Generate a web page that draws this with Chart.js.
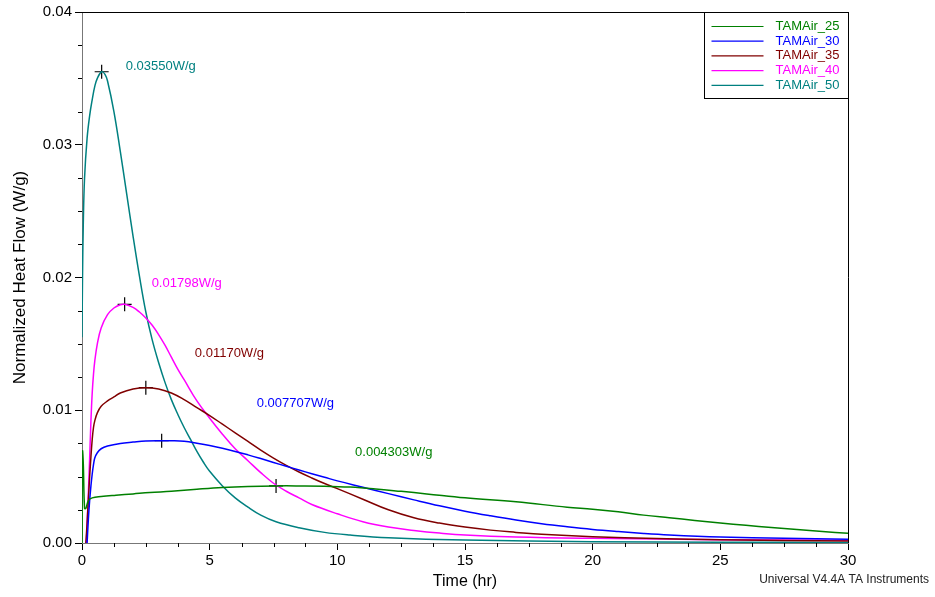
<!DOCTYPE html>
<html>
<head>
<meta charset="utf-8">
<title>TAMAir heat flow</title>
<script src="https://cdn.jsdelivr.net/npm/chart.js@4.4.0/dist/chart.umd.min.js"></script>
<style>
  body { margin: 0; background: #fff; }
  canvas { display: block; }
</style>
</head>
<body>
<canvas id="heatchart" width="935" height="597"></canvas>
<script>
// series names + colours
const seriesNames = ["TAMAir_25", "TAMAir_30", "TAMAir_35", "TAMAir_40", "TAMAir_50"];
const seriesColors = ["#008000", "#0000ff", "#800000", "#ff00ff", "#008080"];

// time (hr) / normalized heat flow (W/g)
const t25 = [0, 0.02, 0.05, 0.1, 0.15, 0.25, 0.4, 0.75, 1.33, 2, 2.66, 3.5, 4.5, 5.5, 6.5, 7.6, 8.5, 9.5, 10.5, 11.5, 12.5, 13.5, 15, 17, 19, 20, 21, 22, 23, 24, 25, 26, 27, 28, 29, 30];
const v25 = [0, 0.0069, 0.0060, 0.0026, 0.0026, 0.0032, 0.0034, 0.0035, 0.0036, 0.0037, 0.0038, 0.0039, 0.00405, 0.00418, 0.00426, 0.0043, 0.0043, 0.00428, 0.00421, 0.00407, 0.00389, 0.0037, 0.0034, 0.0031, 0.0027, 0.00255, 0.00235, 0.0021, 0.0019, 0.0017, 0.0015, 0.00133, 0.00117, 0.00102, 0.00087, 0.00073];

const t30 = [0.2, 0.25, 0.3, 0.35, 0.4, 0.45, 0.5, 0.6, 0.75, 1, 1.5, 2, 2.5, 3.12, 3.5, 4, 4.5, 5, 5.5, 6, 6.5, 7, 7.5, 8, 8.5, 9, 9.5, 10, 11, 12, 13, 14, 15, 16, 17, 18, 19, 20, 21, 22, 23, 25, 27.5, 30];
const v30 = [0, 0.0018, 0.0032, 0.0043, 0.0052, 0.0059, 0.0064, 0.0068, 0.0071, 0.0073, 0.0075, 0.0076, 0.00768, 0.0077, 0.0077, 0.00766, 0.00752, 0.00734, 0.00713, 0.0069, 0.00664, 0.00636, 0.00607, 0.00578, 0.0055, 0.00522, 0.00495, 0.00468, 0.0042, 0.00372, 0.00325, 0.0028, 0.0024, 0.00205, 0.00173, 0.00145, 0.00122, 0.00102, 0.00086, 0.00072, 0.00061, 0.00046, 0.00035, 0.00028];

const t35 = [0.15, 0.2, 0.25, 0.3, 0.35, 0.4, 0.45, 0.5, 0.6, 0.75, 1, 1.25, 1.5, 2, 2.5, 3, 3.5, 4, 4.5, 5, 5.5, 6, 6.5, 7, 7.5, 8, 8.5, 9, 9.5, 10, 11, 12, 13, 14, 15, 16, 17, 18, 20, 22.5, 25, 30];
const v35 = [0, 0.0015, 0.0033, 0.0050, 0.0065, 0.0078, 0.0087, 0.0092, 0.0098, 0.0103, 0.0107, 0.0110, 0.0113, 0.0116, 0.0117, 0.0116, 0.0113, 0.0108, 0.0102, 0.0096, 0.00895, 0.0083, 0.00765, 0.0070, 0.0064, 0.00585, 0.00535, 0.0049, 0.00448, 0.0041, 0.0033, 0.0025, 0.0019, 0.0015, 0.0012, 0.00097, 0.0008, 0.00065, 0.00047, 0.00033, 0.00025, 0.00015];

const t40 = [0.17, 0.25, 0.3, 0.35, 0.4, 0.45, 0.5, 0.6, 0.75, 1, 1.25, 1.5, 1.67, 2, 2.25, 2.5, 2.75, 3, 3.25, 3.5, 3.75, 4, 4.5, 5, 5.5, 6, 6.5, 7, 7.5, 8, 8.5, 9, 10, 11, 12, 13, 14, 15, 17, 20, 25, 30];
const v40 = [0, 0.0038, 0.0064, 0.0092, 0.0113, 0.0127, 0.0137, 0.0150, 0.0162, 0.0172, 0.0177, 0.01795, 0.01798, 0.01775, 0.0174, 0.01695, 0.0164, 0.0157, 0.0149, 0.0140, 0.0131, 0.0123, 0.0107, 0.0094, 0.0082, 0.0071, 0.0062, 0.0053, 0.0045, 0.0039, 0.0034, 0.0029, 0.0022, 0.0016, 0.0012, 0.00095, 0.00075, 0.0006, 0.00045, 0.00035, 0.00025, 0.0002];

const t50 = [0, 0.02, 0.05, 0.1, 0.2, 0.3, 0.4, 0.5, 0.6, 0.77, 0.9, 1, 1.25, 1.5, 1.75, 2, 2.25, 2.5, 2.75, 3, 3.25, 3.5, 3.75, 4, 4.25, 4.5, 4.75, 5, 5.5, 6, 6.5, 7, 7.6, 8.5, 9.5, 10.5, 12, 15, 20, 25, 30];
const v50 = [0.0155, 0.0200, 0.0240, 0.0275, 0.0305, 0.0322, 0.0334, 0.0344, 0.0350, 0.0355, 0.0353, 0.0348, 0.0325, 0.0295, 0.0263, 0.0231, 0.0201, 0.0174, 0.0153, 0.0136, 0.0121, 0.0108, 0.0097, 0.0087, 0.0078, 0.0069, 0.0061, 0.0054, 0.0043, 0.0034, 0.0027, 0.0021, 0.0016, 0.00115, 0.0008, 0.0006, 0.0004, 0.00022, 0.0001, 0.00006, 0.00004];

// peak markers
const peakTimes = [7.6, 3.12, 2.5, 1.67, 0.77];
const peakValues = [0.004303, 0.007707, 0.01170, 0.01798, 0.03550];
const peakLabels = ["0.004303W/g", "0.007707W/g", "0.01170W/g", "0.01798W/g", "0.03550W/g"];
// where each label sits relative to its marker (px)
const labelOffsets = [[79, -33], [95, -37], [49, -34], [27, -21], [24, -5]];

const FONT = "'Liberation Sans', Arial, Helvetica, sans-serif";

function toPoints(ts, vs) {
    return ts.map((t, i) => ({ x: t, y: vs[i] }));
}

const allT = [t25, t30, t35, t40, t50];
const allV = [v25, v30, v35, v40, v50];

const datasets = seriesNames.map((name, i) => ({
    label: name,
    data: toPoints(allT[i], allV[i]),
    borderColor: seriesColors[i],
    borderWidth: 1.5,
    pointRadius: 0,
    fill: false,
    tension: 0.4
}));

datasets.push({
    label: "peaks",
    data: toPoints(peakTimes, peakValues),
    showLine: false,
    pointStyle: "cross",
    pointRadius: 7,
    pointBorderColor: "#000",
    pointBorderWidth: 1.2,
    pointHoverRadius: 7
});

const extras = {
    id: "extras",
    afterDatasetsDraw(chart) {
        const { ctx, chartArea: a, scales: { x, y } } = chart;
        ctx.save();

        // top and right frame
        ctx.strokeStyle = "#000";
        ctx.lineWidth = 1;
        ctx.beginPath();
        ctx.moveTo(a.left, Math.round(a.top) + 0.5);
        ctx.lineTo(Math.round(a.right) + 0.5, Math.round(a.top) + 0.5);
        ctx.lineTo(Math.round(a.right) + 0.5, a.bottom);
        ctx.stroke();

        // minor ticks
        ctx.beginPath();
        for (let v = 0.0025; v < 0.04; v += 0.0025) {
            if (Math.abs(v / 0.01 - Math.round(v / 0.01)) < 1e-6) continue;
            const py = Math.round(y.getPixelForValue(v)) + 0.5;
            ctx.moveTo(a.left - 4, py);
            ctx.lineTo(a.left, py);
        }
        for (let t = 1.25; t < 30; t += 1.25) {
            if (Math.abs(t / 5 - Math.round(t / 5)) < 1e-6) continue;
            const px = Math.round(x.getPixelForValue(t)) + 0.5;
            ctx.moveTo(px, a.bottom);
            ctx.lineTo(px, a.bottom + 4);
        }
        ctx.stroke();

        // peak labels
        ctx.font = "13px " + FONT;
        ctx.textBaseline = "middle";
        ctx.textAlign = "left";
        peakTimes.forEach((t, i) => {
            ctx.fillStyle = seriesColors[i];
            ctx.fillText(peakLabels[i],
                x.getPixelForValue(t) + labelOffsets[i][0],
                y.getPixelForValue(peakValues[i]) + labelOffsets[i][1]);
        });

        // legend box
        const bw = 144, bh = 86;
        const bx = Math.round(a.right) - bw + 0.5, by = Math.round(a.top) + 0.5;
        ctx.fillStyle = "#fff";
        ctx.fillRect(bx, by, bw, bh);
        ctx.strokeStyle = "#000";
        ctx.strokeRect(bx, by, bw, bh);
        seriesNames.forEach((name, i) => {
            const ry = by + 14 + i * 14.7;
            ctx.strokeStyle = seriesColors[i];
            ctx.lineWidth = 1.2;
            ctx.beginPath();
            ctx.moveTo(bx + 7, ry);
            ctx.lineTo(bx + 59, ry);
            ctx.stroke();
            ctx.fillStyle = seriesColors[i];
            ctx.fillText(name, bx + 71, ry);
        });

        ctx.restore();
    },
    afterDraw(chart) {
        const { ctx } = chart;
        ctx.save();
        ctx.font = "12px " + FONT;
        ctx.fillStyle = "#222";
        ctx.textAlign = "right";
        ctx.textBaseline = "middle";
        ctx.fillText("Universal V4.4A TA Instruments", 929, 580);
        ctx.restore();
    }
};

new Chart(document.getElementById("heatchart"), {
    type: "line",
    data: { datasets: datasets },
    options: {
        responsive: false,
        animation: false,
        events: [],
        layout: { padding: { top: 11, right: 87, left: 0, bottom: 0 } },
        plugins: {
            legend: { display: false },
            tooltip: { enabled: false }
        },
        scales: {
            x: {
                type: "linear",
                min: 0,
                max: 30,
                afterFit: (s) => { s.height = 54; },
                ticks: {
                    stepSize: 5,
                    color: "#000",
                    font: { family: FONT, size: 15 },
                    padding: 2,
                    maxRotation: 0
                },
                grid: { drawOnChartArea: false, drawTicks: true, tickLength: 7, color: "#000" },
                border: { color: "#777", width: 1 },
                title: {
                    display: true,
                    text: "Time (hr)",
                    color: "#000",
                    font: { family: FONT, size: 16 },
                    padding: { top: 0, bottom: 6 }
                }
            },
            y: {
                min: 0,
                max: 0.04,
                afterFit: (s) => { s.width = 82; },
                ticks: {
                    stepSize: 0.01,
                    color: "#000",
                    font: { family: FONT, size: 15 },
                    padding: 3,
                    callback: (v) => v.toFixed(2)
                },
                grid: { drawOnChartArea: false, drawTicks: true, tickLength: 7, color: "#000" },
                border: { color: "#777", width: 1 },
                title: {
                    display: true,
                    text: "Normalized Heat Flow (W/g)",
                    color: "#000",
                    font: { family: FONT, size: 17 },
                    padding: { top: 10, bottom: 0 }
                }
            }
        }
    },
    plugins: [extras]
});
</script>
</body>
</html>
